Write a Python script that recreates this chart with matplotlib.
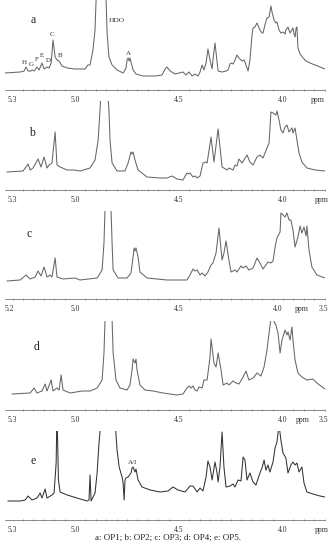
import numpy as np
import matplotlib
matplotlib.use('Agg')
import matplotlib.pyplot as plt

plt.rcParams['font.family'] = ['Liberation Serif', 'DejaVu Serif']

# spectrum traces: chemical shift (ppm) and intensity (a.u.)
a_ppm = [5.337, 5.264, 5.245, 5.236, 5.226, 5.212, 5.207, 5.197, 5.183, 5.173, 5.159, 5.149,
         5.135, 5.125, 5.115, 5.106, 5.096, 5.087, 5.077, 5.063, 5.038, 5.000, 4.952,
         4.938, 4.928, 4.914, 4.904, 4.899, 4.875, 4.851, 4.846, 4.837, 4.822, 4.798, 4.769,
         4.755, 4.750, 4.745, 4.740, 4.736, 4.731, 4.721, 4.707, 4.673, 4.615, 4.582,
         4.567, 4.558, 4.543, 4.519, 4.481, 4.466, 4.452, 4.437, 4.423, 4.409, 4.399, 4.389,
         4.380, 4.370, 4.361, 4.351, 4.341, 4.337, 4.327, 4.317, 4.312, 4.293, 4.274, 4.264,
         4.255, 4.250, 4.240, 4.231, 4.221, 4.212, 4.197, 4.188, 4.183, 4.173, 4.168, 4.159,
         4.149, 4.144, 4.135, 4.125, 4.115, 4.111, 4.101, 4.096, 4.087, 4.077, 4.067, 4.058,
         4.053, 4.043, 4.034, 4.029, 4.019, 4.010, 4.000, 3.990, 3.986, 3.976, 3.966, 3.957,
         3.952, 3.947, 3.942, 3.937, 3.933, 3.928, 3.918, 3.903, 3.889, 3.870, 3.846, 3.822,
         3.798]
a_int = [17, 18, 19, 23, 19, 19, 20, 19, 23, 20, 27, 21,
         23, 22, 27, 50, 33, 30, 29, 24, 22, 21, 21,
         25, 25, 40, 60, 90, 150, 90, 57, 33, 25, 20, 17,
         22, 30, 32, 29, 32, 28, 20, 16, 14, 14, 15,
         21, 23, 19, 16, 18, 15, 18, 14, 16, 14, 18, 25,
         20, 27, 41, 30, 21, 30, 47, 28, 19, 18, 19, 20,
         26, 27, 26, 30, 35, 32, 29, 30, 28, 22, 19, 30,
         55, 62, 63, 67, 62, 60, 57, 57, 65, 72, 73, 84,
         78, 70, 67, 68, 60, 57, 58, 56, 60, 63, 57, 60,
         62, 56, 53, 62, 63, 42, 36, 32, 29, 27, 25, 23,
         21]

b_ppm = [5.327, 5.250, 5.226, 5.216, 5.202, 5.178, 5.164, 5.149, 5.135, 5.125, 5.111, 5.096,
         5.087, 5.072, 5.038, 5.005, 4.976, 4.928, 4.904, 4.889, 4.880, 4.861, 4.837, 4.832,
         4.822, 4.798, 4.760, 4.745, 4.731, 4.726, 4.721, 4.712, 4.697, 4.654, 4.591, 4.558,
         4.534, 4.510, 4.481, 4.462, 4.457, 4.447, 4.433, 4.423, 4.413, 4.399, 4.385, 4.370,
         4.365, 4.346, 4.332, 4.312, 4.293, 4.269, 4.260, 4.240, 4.231, 4.221, 4.212, 4.197,
         4.173, 4.159, 4.144, 4.125, 4.111, 4.096, 4.077, 4.067, 4.058, 4.048, 4.034, 4.029,
         4.019, 4.010, 4.000, 3.990, 3.981, 3.971, 3.957, 3.952, 3.942, 3.933, 3.923, 3.909,
         3.885, 3.846, 3.798]
b_int = [18, 19, 26, 20, 22, 31, 23, 33, 22, 25, 27, 58,
         25, 23, 20, 20, 19, 22, 30, 50, 80, 150, 80, 50,
         27, 19, 19, 27, 38, 36, 38, 30, 20, 13, 12, 12,
         14, 11, 10, 17, 16, 17, 13, 14, 12, 14, 27, 28,
         27, 53, 28, 61, 23, 20, 22, 20, 25, 24, 31, 27,
         35, 28, 25, 33, 35, 32, 42, 47, 78, 77, 75, 79,
         70, 60, 57, 63, 65, 58, 62, 57, 62, 50, 37, 28,
         22, 20, 19]

c_ppm = [5.327, 5.264, 5.236, 5.216, 5.192, 5.178, 5.164, 5.149, 5.135, 5.120, 5.111, 5.096,
         5.087, 5.058, 5.000, 4.976, 4.894, 4.870, 4.861, 4.856, 4.841, 4.827, 4.822, 4.817,
         4.793, 4.750, 4.731, 4.721, 4.716, 4.712, 4.707, 4.697, 4.688, 4.654, 4.558, 4.462,
         4.447, 4.433, 4.423, 4.413, 4.399, 4.389, 4.375, 4.361, 4.346, 4.337, 4.322, 4.308,
         4.293, 4.284, 4.274, 4.260, 4.250, 4.231, 4.221, 4.202, 4.192, 4.178, 4.164, 4.144,
         4.125, 4.111, 4.096, 4.072, 4.058, 4.048, 4.038, 4.029, 4.014, 4.010, 4.000, 3.990,
         3.981, 3.971, 3.962, 3.952, 3.942, 3.928, 3.918, 3.909, 3.899, 3.889, 3.885, 3.875,
         3.861, 3.837, 3.798]
c_int = [18, 19, 24, 20, 22, 28, 23, 32, 22, 24, 22, 41,
         22, 20, 21, 19, 21, 29, 56, 89, 150, 89, 56, 29,
         21, 21, 26, 42, 51, 48, 51, 42, 27, 21, 19, 19,
         24, 30, 28, 29, 24, 26, 23, 27, 34, 36, 46, 71,
         39, 46, 58, 39, 27, 29, 27, 33, 31, 33, 29, 31,
         41, 36, 30, 37, 36, 38, 52, 61, 67, 86, 84, 82,
         86, 79, 79, 69, 52, 62, 73, 66, 72, 63, 73, 49,
         32, 24, 21]

d_ppm = [5.303, 5.216, 5.197, 5.183, 5.159, 5.144, 5.135, 5.115, 5.106, 5.087, 5.077, 5.067,
         5.058, 5.024, 4.966, 4.928, 4.894, 4.870, 4.861, 4.856, 4.841, 4.822, 4.817, 4.803,
         4.784, 4.750, 4.736, 4.726, 4.721, 4.712, 4.707, 4.702, 4.688, 4.664, 4.625, 4.577,
         4.510, 4.481, 4.462, 4.452, 4.442, 4.433, 4.423, 4.413, 4.404, 4.389, 4.380, 4.365,
         4.351, 4.346, 4.332, 4.322, 4.312, 4.298, 4.288, 4.269, 4.260, 4.240, 4.226, 4.212,
         4.192, 4.178, 4.164, 4.144, 4.125, 4.106, 4.091, 4.077, 4.067, 4.053, 4.043, 4.034,
         4.024, 4.014, 4.005, 3.990, 3.981, 3.976, 3.966, 3.957, 3.952, 3.942, 3.928, 3.909,
         3.885, 3.856, 3.837, 3.798]
d_int = [16, 17, 22, 17, 19, 26, 19, 30, 19, 22, 20, 35,
         20, 17, 19, 19, 22, 30, 57, 90, 150, 90, 57, 30,
         22, 20, 25, 40, 51, 47, 51, 40, 25, 20, 19, 17,
         15, 16, 22, 24, 22, 24, 20, 19, 23, 22, 30, 30,
         53, 71, 47, 43, 57, 40, 25, 27, 25, 29, 27, 26,
         33, 39, 30, 32, 37, 34, 43, 60, 77, 100, 88, 85,
         77, 57, 70, 80, 75, 78, 70, 83, 70, 50, 37, 33,
         30, 31, 27, 21]

e_ppm = [5.322, 5.264, 5.240, 5.226, 5.207, 5.183, 5.168, 5.159, 5.144, 5.135, 5.111, 5.101,
         5.091, 5.087, 5.080, 5.072, 5.038, 4.991, 4.942, 4.933, 4.928, 4.923, 4.904, 4.894,
         4.885, 4.875, 4.841, 4.808, 4.798, 4.788, 4.774, 4.769, 4.764, 4.760, 4.755, 4.745,
         4.731, 4.726, 4.721, 4.712, 4.707, 4.697, 4.678, 4.639, 4.591, 4.553, 4.529, 4.505,
         4.471, 4.447, 4.433, 4.413, 4.399, 4.385, 4.370, 4.361, 4.351, 4.341, 4.327, 4.317,
         4.312, 4.303, 4.293, 4.284, 4.274, 4.255, 4.240, 4.231, 4.216, 4.202, 4.192, 4.183,
         4.173, 4.159, 4.144, 4.130, 4.111, 4.101, 4.091, 4.082, 4.072, 4.063, 4.048, 4.038,
         4.029, 4.019, 4.010, 4.000, 3.986, 3.976, 3.962, 3.952, 3.942, 3.933, 3.923, 3.909,
         3.899, 3.885, 3.856, 3.822, 3.798]
e_int = [19, 19, 20, 24, 20, 22, 27, 22, 31, 22, 25, 27,
         57, 110, 40, 28, 25, 22, 19, 20, 45, 19, 27, 47,
         77, 100, 180, 100, 70, 53, 43, 37, 20, 40, 42, 43,
         47, 52, 53, 48, 51, 40, 33, 30, 28, 29, 33, 30,
         28, 34, 34, 28, 32, 29, 43, 59, 53, 40, 58, 47,
         38, 53, 88, 53, 33, 34, 36, 33, 40, 39, 63, 60,
         40, 47, 38, 35, 47, 52, 60, 50, 55, 48, 58, 72,
         78, 95, 80, 67, 62, 47, 55, 58, 55, 57, 48, 53,
         37, 28, 26, 24, 23]

panel_letters = ['a', 'b', 'c', 'd', 'e']
tick_labels = [
    ['5.3', '5.0', '4.5', '4.0', 'ppm'],
    ['5.3', '5.0', '4.5', '4.0', 'ppm'],
    ['5.2', '5.0', '4.5', '4.0', 'ppm', '3.5'],
    ['5.3', '5.0', '4.5', '4.0', 'ppm', '3.5'],
    ['5.3', '5.0', '4.5', '4.0', 'ppm'],
]
tick_pos = [
    [5.3, 5.0, 4.5, 4.0, 3.832],
    [5.3, 5.0, 4.5, 4.0, 3.813],
    [5.317, 5.0, 4.5, 4.024, 3.909, 3.808],
    [5.3, 5.0, 4.5, 4.0, 3.904, 3.808],
    [5.3, 5.0, 4.5, 4.0, 3.813],
]
caption = 'a: OP1; b: OP2; c: OP3; d: OP4; e: OP5.'

spectra = [(a_ppm, a_int), (b_ppm, b_int), (c_ppm, c_int), (d_ppm, d_int), (e_ppm, e_int)]
# (top, bottom) of each panel in pixels
boxes = [(0, 90), (101, 190), (211, 299), (321, 410), (431, 520)]
letter_xy = [(0.088, 0.78), (0.084, 0.64), (0.075, 0.74), (0.10, 0.71), (0.088, 0.66)]
line_colors = ['#666666', '#666666', '#666666', '#666666', '#333333']

W, H = 336, 550
fig = plt.figure(figsize=(W / 100, H / 100), dpi=100)

axes = []
for i, (ppm, inten) in enumerate(spectra):
    top, bot = boxes[i]
    ax = fig.add_axes([5 / W, (H - bot) / H, 320 / W, (bot - top) / H])
    ax.plot(ppm, inten, color=line_colors[i], lw=0.75)
    ax.set_xlim(5.337, 3.798)
    ax.set_ylim(0, bot - top)
    for s in ['top', 'left', 'right']:
        ax.spines[s].set_visible(False)
    ax.spines['bottom'].set_color('#777777')
    ax.spines['bottom'].set_linewidth(0.6)
    ax.set_yticks([])
    ax.set_xticks(tick_pos[i], tick_labels[i])
    ax.set_xticks(np.arange(3.80, 5.35, 0.05), minor=True)
    ax.tick_params(axis='x', which='major', length=0, pad=4, labelsize=5.5,
                   labelcolor='#333333')
    ax.tick_params(axis='x', which='minor', length=1.6, width=0.5,
                   direction='inout', color='#888888')
    ax.patch.set_alpha(0)
    ax.text(letter_xy[i][0], letter_xy[i][1], panel_letters[i], transform=ax.transAxes,
            fontsize=8.5, ha='center', va='center', color='#222222')
    axes.append(ax)

# peak labels in panel a
ax = axes[0]
peak_names = ['H', 'G', 'F', 'E', 'D', 'C', 'B', 'A']
peak_label_ppm = [5.245, 5.212, 5.183, 5.159, 5.130, 5.111, 5.072, 4.745]
peak_label_int = [28, 26, 31, 35, 30, 56, 35, 37]
for name, px, py in zip(peak_names, peak_label_ppm, peak_label_int):
    ax.text(px, py, name, fontsize=5, ha='center', va='center', color='#333333')
ax.text(4.798, 69, 'HDO', fontsize=5.3, ha='center', va='center', color='#333333')

axes[4].text(4.721, 58, 'A/I', fontsize=5, ha='center', va='center', color='#333333')

fig.text(0.5, 1 - 538 / H, caption, fontsize=6.5, ha='center', va='center', color='#222222')

fig.savefig('out.png', dpi=100)
